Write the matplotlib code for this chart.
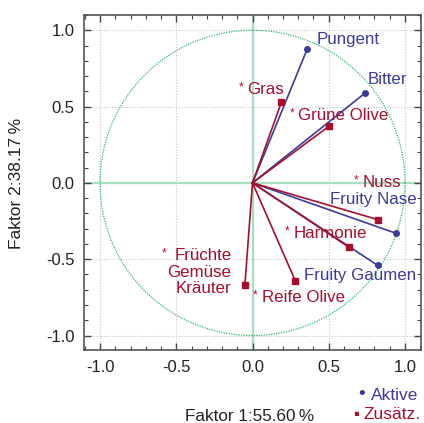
import numpy as np
import matplotlib.pyplot as plt
from matplotlib.ticker import MultipleLocator

# Active variables (blue, circle)
active_names = ["Pungent", "Bitter", "Fruity Nase", "Fruity Gaumen"]
active_x = [0.36, 0.74, 0.94, 0.82]
active_y = [0.88, 0.59, -0.33, -0.54]

# Supplementary variables (red, square)
supp_names = ["Gras", "Grüne Olive", "Nuss", "Harmonie", "Früchte\nGemüse\nKräuter", "Reife Olive"]
supp_x = [0.19, 0.50, 0.82, 0.63, -0.05, 0.28]
supp_y = [0.53, 0.37, -0.24, -0.42, -0.67, -0.64]

xlabel = "Faktor 1:55.60\u2009%"
ylabel = "Faktor 2:38.17\u2009%"
ticks = [-1.0, -0.5, 0.0, 0.5, 1.0]

BLUE = "#3b3b9b"
RED = "#a50f2d"
GREEN = "#2fb56b"

plt.rcParams['font.family'] = ['Liberation Sans', 'DejaVu Sans']

fig = plt.figure(figsize=(4.24, 4.23), dpi=100)
ax = fig.add_axes([84/424, 1 - 350/423, (421 - 84)/424, (350 - 15)/423])
ax.set_xlim(-1.105, 1.105)
ax.set_ylim(-1.095, 1.1)

# grid
for t in ticks:
    ax.axvline(t, color="#c8c8c8", lw=0.8, ls=(0, (1, 1.5)), zorder=0)
    ax.axhline(t, color="#c8c8c8", lw=0.8, ls=(0, (1, 1.5)), zorder=0)
ax.axhline(0, color="#a8dfc2", lw=1.6, zorder=1)
ax.axvline(0, color="#a8dfc2", lw=1.6, zorder=1)

th = np.linspace(0, 2*np.pi, 400)
ax.plot(np.cos(th), np.sin(th), color=GREEN, lw=0.9, ls=(0, (1, 1)), zorder=2)

for x, y in zip(active_x, active_y):
    ax.plot([0, x], [0, y], color=BLUE, lw=1.2, zorder=3)
    ax.plot(x, y, 'o', color=BLUE, ms=4, zorder=4)
for x, y in zip(supp_x, supp_y):
    ax.plot([0, x], [0, y], color=RED, lw=1.2, zorder=3)
    ax.plot(x, y, 's', color=RED, ms=4.5, zorder=4)

fs = 12.2
# active labels: (x, y, ha)
a_lab = [(0.42, 0.94, 'left'), (0.754, 0.68, 'left'), (0.505, -0.11, 'left'), (0.34, -0.61, 'left')]
for name, (lx, ly, ha) in zip(active_names, a_lab):
    ax.text(lx, ly, name, color=BLUE, fontsize=fs, ha=ha, va='center', zorder=5)

# supplementary labels with small asterisk
s_lab = [(-0.035, 0.61, 'left'), (0.30, 0.44, 'left'), (0.72, 0.0, 'left'),
         (0.27, -0.33, 'left'), (-0.138, -0.585, 'right'), (0.06, -0.75, 'left')]
ast_x = [-0.075, 0.258, 0.68, 0.225, -0.58, 0.018]
ast_y = [0.625, 0.455, 0.015, -0.315, -0.46, -0.735]
for name, (lx, ly, ha), axx, ayy in zip(supp_names, s_lab, ast_x, ast_y):
    ax.text(lx, ly, name, color=RED, fontsize=fs, ha=ha, va='center',
            linespacing=1.12, zorder=5)
    ax.text(axx, ayy, "*", color=RED, fontsize=8.5, ha='center', va='center', zorder=5)

ax.set_xticks(ticks)
ax.set_yticks(ticks)
ax.set_xticklabels([f"{t:.1f}" for t in ticks])
ax.set_yticklabels([f"{t:.1f}" for t in ticks])
ax.xaxis.set_minor_locator(MultipleLocator(0.1))
ax.yaxis.set_minor_locator(MultipleLocator(0.1))
ax.tick_params(which='both', direction='in', top=True, right=True, color="#444444")
ax.tick_params(which='major', length=5, width=1, labelsize=12, pad=7, labelcolor="#222222")
ax.tick_params(which='minor', length=3, width=0.8)
for s in ax.spines.values():
    s.set_color("#555555")
    s.set_linewidth(1.2)

fig.text(250/424, 1 - 416/423, xlabel, ha='center', va='center', fontsize=12.3, color="#222222",
         family=['Liberation Sans', 'DejaVu Sans'])
fig.text(17/424, 1 - 183/423, ylabel, ha='center', va='center', fontsize=12.5, rotation=90, color="#222222",
         family=['Liberation Sans', 'DejaVu Sans'])

# legend
fig.text(362/424, 1 - 394/423, "•", color=BLUE, fontsize=14, ha='center', va='center')
fig.text(371/424, 1 - 395/423, "Aktive", color=BLUE, fontsize=12.5, ha='left', va='center')
fig.text(356/424, 1 - 414/423, "▪", color=RED, fontsize=12, ha='center', va='center')
fig.text(363/424, 1 - 414/423, "Zusätz.", color=RED, fontsize=12.5, ha='left', va='center')

fig.savefig("out.png", dpi=100)
